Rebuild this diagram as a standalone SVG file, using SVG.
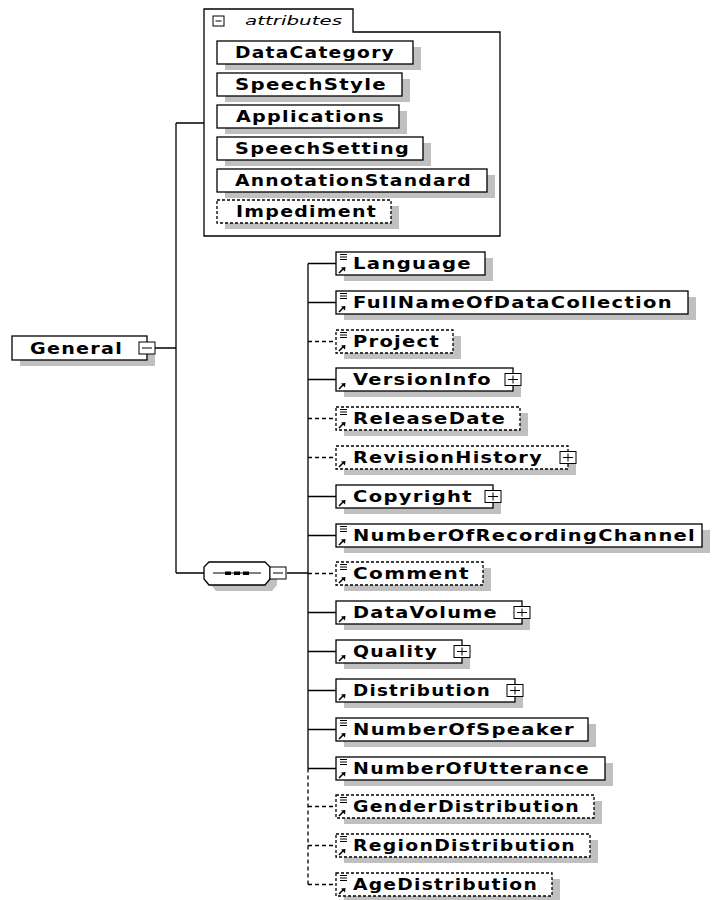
<svg xmlns="http://www.w3.org/2000/svg" xmlns:xlink="http://www.w3.org/1999/xlink" width="714" height="900" viewBox="0 0 714 900">
<style>
.bg{fill:#fff}
.box{fill:#fff;stroke:#000;stroke-width:1.3}
.opt{stroke-dasharray:3 2}
.sh{fill:#c0c0c0;stroke:none}
.t{font-family:"DejaVu Sans","Liberation Sans",Arial,sans-serif;font-weight:bold;font-size:15px;letter-spacing:1px;fill:#000}
.ti{font-family:"DejaVu Sans","Liberation Sans",Arial,sans-serif;font-style:italic;font-size:12px;fill:#000}
.ln{stroke:#000;stroke-width:1.3;fill:none}
.dl{stroke-dasharray:4 3}
.ic{stroke:#000;stroke-width:1;fill:none}
</style>
<defs>
<g id="eq"><path class="ic" d="M4 2.5H11M4 5H11M4 7.5H11"/></g>
<g id="ar"><path d="M3 21L7 17" stroke="#000" stroke-width="1.6"/><polygon points="5,15.5 9.5,15 9,19.5" fill="#000"/></g>
<g id="plus"><rect x="-8" y="-6" width="16" height="12" fill="#fff" stroke="#000" stroke-width="1"/><path d="M-5 0H5M0 -4V4" stroke="#000" stroke-width="1"/></g>
<g id="minus"><rect x="-8" y="-6" width="16" height="12" fill="#fff" stroke="#000" stroke-width="1"/><path d="M-5 0H5" stroke="#000" stroke-width="1"/></g>
</defs>
<rect class="bg" x="0" y="0" width="714" height="900"/>

<g id="connectors">
<path class="ln" d="M155 348H176M176 123V573M176 123H204M176 573H204"/>
<path class="ln" d="M287 573H308M308 263.5V768.5"/>
<path class="ln dl" d="M308 768.5V884.5"/>
<path class="ln" d="M308 263.5H336M308 302.5H336M308 379.5H336M308 496.5H336M308 535.5H336M308 612.5H336M308 651.5H336M308 690.5H336M308 729.5H336M308 768.5H336"/>
<path class="ln dl" d="M308 341.5H336M308 418.5H336M308 457.5H336M308 573.5H336M308 806.5H336M308 845.5H336M308 884.5H336"/>
</g>

<g id="attributes">
<path class="ln" d="M204 236V9H353V32H500V236Z"/>
<rect x="213" y="16" width="11" height="10" fill="#fff" stroke="#000" stroke-width="1"/>
<path d="M215.5 21H221.5" stroke="#000" stroke-width="1"/>
<text class="ti" x="245" y="25" textLength="97" lengthAdjust="spacingAndGlyphs">attributes</text>
</g>

<g id="attr-DataCategory">
<rect class="sh" x="225" y="47" width="196" height="23"/>
<rect class="box" x="217" y="41" width="196" height="23"/>
<text class="t" x="235" y="58" textLength="160" lengthAdjust="spacingAndGlyphs">DataCategory</text>
</g>
<g id="attr-SpeechStyle">
<rect class="sh" x="225" y="79" width="185" height="23"/>
<rect class="box" x="217" y="73" width="185" height="23"/>
<text class="t" x="235" y="90" textLength="152" lengthAdjust="spacingAndGlyphs">SpeechStyle</text>
</g>
<g id="attr-Applications">
<rect class="sh" x="225" y="111" width="182" height="23"/>
<rect class="box" x="217" y="105" width="182" height="23"/>
<text class="t" x="236" y="122" textLength="149" lengthAdjust="spacingAndGlyphs">Applications</text>
</g>
<g id="attr-SpeechSetting">
<rect class="sh" x="225" y="143" width="206" height="23"/>
<rect class="box" x="217" y="137" width="206" height="23"/>
<text class="t" x="235" y="154" textLength="175" lengthAdjust="spacingAndGlyphs">SpeechSetting</text>
</g>
<g id="attr-AnnotationStandard">
<rect class="sh" x="225" y="175" width="270" height="23"/>
<rect class="box" x="217" y="169" width="270" height="23"/>
<text class="t" x="235" y="186" textLength="237" lengthAdjust="spacingAndGlyphs">AnnotationStandard</text>
</g>
<g id="attr-Impediment">
<rect class="sh" x="225" y="206" width="174" height="23"/>
<rect class="box opt" x="217" y="200" width="174" height="23"/>
<text class="t" x="236" y="217" textLength="141" lengthAdjust="spacingAndGlyphs">Impediment</text>
</g>

<g id="General">
<rect class="sh" x="20" y="342" width="135" height="24"/>
<rect class="box" x="12" y="336" width="135" height="24"/>
<text class="t" x="30" y="354" textLength="93" lengthAdjust="spacingAndGlyphs">General</text>
<use xlink:href="#minus" x="147" y="348"/>
</g>

<g id="sequence">
<polygon class="sh" points="216,568 272,568 277,573 277,585 272,591 216,591 211,585 211,573"/>
<polygon class="box" points="209,562 265,562 270,567 270,579 265,585 209,585 204,579 204,567"/>
<path d="M213 573H261" stroke="#000" stroke-width="1"/>
<rect x="225" y="571.5" width="6" height="3.5" fill="#000"/>
<rect x="234" y="571.5" width="6" height="3.5" fill="#000"/>
<rect x="243" y="571.5" width="6" height="3.5" fill="#000"/>
<use xlink:href="#minus" x="278" y="573"/>
</g>

<g id="Language">
<rect class="sh" x="344" y="258" width="149" height="23"/>
<rect class="box" x="336" y="252" width="149" height="23"/>
<use xlink:href="#eq" x="336" y="252"/><use xlink:href="#ar" x="336" y="252"/>
<text class="t" x="353" y="269" textLength="119" lengthAdjust="spacingAndGlyphs">Language</text>
</g>
<g id="FullNameOfDataCollection">
<rect class="sh" x="344" y="297" width="352" height="23"/>
<rect class="box" x="336" y="291" width="352" height="23"/>
<use xlink:href="#eq" x="336" y="291"/><use xlink:href="#ar" x="336" y="291"/>
<text class="t" x="353" y="308" textLength="320" lengthAdjust="spacingAndGlyphs">FullNameOfDataCollection</text>
</g>
<g id="Project">
<rect class="sh" x="344" y="336" width="117" height="23"/>
<rect class="box opt" x="336" y="330" width="117" height="23"/>
<use xlink:href="#eq" x="336" y="330"/><use xlink:href="#ar" x="336" y="330"/>
<text class="t" x="353" y="347" textLength="87" lengthAdjust="spacingAndGlyphs">Project</text>
</g>
<g id="VersionInfo">
<rect class="sh" x="344" y="374" width="177" height="23"/>
<rect class="box" x="336" y="368" width="177" height="23"/>
<use xlink:href="#ar" x="336" y="368"/>
<text class="t" x="353" y="385" textLength="139" lengthAdjust="spacingAndGlyphs">VersionInfo</text>
<use xlink:href="#plus" x="513" y="379.5"/>
</g>
<g id="ReleaseDate">
<rect class="sh" x="344" y="413" width="184" height="23"/>
<rect class="box opt" x="336" y="407" width="184" height="23"/>
<use xlink:href="#eq" x="336" y="407"/><use xlink:href="#ar" x="336" y="407"/>
<text class="t" x="353" y="424" textLength="153" lengthAdjust="spacingAndGlyphs">ReleaseDate</text>
</g>
<g id="RevisionHistory">
<rect class="sh" x="344" y="452" width="232" height="23"/>
<rect class="box opt" x="336" y="446" width="232" height="23"/>
<use xlink:href="#ar" x="336" y="446"/>
<text class="t" x="353" y="463" textLength="190" lengthAdjust="spacingAndGlyphs">RevisionHistory</text>
<use xlink:href="#plus" x="568" y="457.5"/>
</g>
<g id="Copyright">
<rect class="sh" x="344" y="491" width="157" height="23"/>
<rect class="box" x="336" y="485" width="157" height="23"/>
<use xlink:href="#ar" x="336" y="485"/>
<text class="t" x="353" y="502" textLength="120" lengthAdjust="spacingAndGlyphs">Copyright</text>
<use xlink:href="#plus" x="493" y="496.5"/>
</g>
<g id="NumberOfRecordingChannel">
<rect class="sh" x="344" y="530" width="366" height="23"/>
<rect class="box" x="336" y="524" width="366" height="23"/>
<use xlink:href="#eq" x="336" y="524"/><use xlink:href="#ar" x="336" y="524"/>
<text class="t" x="353" y="541" textLength="343" lengthAdjust="spacingAndGlyphs">NumberOfRecordingChannel</text>
</g>
<g id="Comment">
<rect class="sh" x="344" y="568" width="147" height="23"/>
<rect class="box opt" x="336" y="562" width="147" height="23"/>
<use xlink:href="#eq" x="336" y="562"/><use xlink:href="#ar" x="336" y="562"/>
<text class="t" x="353" y="579" textLength="117" lengthAdjust="spacingAndGlyphs">Comment</text>
</g>
<g id="DataVolume">
<rect class="sh" x="344" y="607" width="186" height="23"/>
<rect class="box" x="336" y="601" width="186" height="23"/>
<use xlink:href="#ar" x="336" y="601"/>
<text class="t" x="353" y="618" textLength="145" lengthAdjust="spacingAndGlyphs">DataVolume</text>
<use xlink:href="#plus" x="522" y="612.5"/>
</g>
<g id="Quality">
<rect class="sh" x="344" y="646" width="126" height="23"/>
<rect class="box" x="336" y="640" width="126" height="23"/>
<use xlink:href="#ar" x="336" y="640"/>
<text class="t" x="353" y="657" textLength="85" lengthAdjust="spacingAndGlyphs">Quality</text>
<use xlink:href="#plus" x="462" y="651.5"/>
</g>
<g id="Distribution">
<rect class="sh" x="344" y="685" width="179" height="23"/>
<rect class="box" x="336" y="679" width="179" height="23"/>
<use xlink:href="#ar" x="336" y="679"/>
<text class="t" x="353" y="696" textLength="138" lengthAdjust="spacingAndGlyphs">Distribution</text>
<use xlink:href="#plus" x="515" y="690.5"/>
</g>
<g id="NumberOfSpeaker">
<rect class="sh" x="344" y="724" width="252" height="23"/>
<rect class="box" x="336" y="718" width="252" height="23"/>
<use xlink:href="#eq" x="336" y="718"/><use xlink:href="#ar" x="336" y="718"/>
<text class="t" x="353" y="735" textLength="222" lengthAdjust="spacingAndGlyphs">NumberOfSpeaker</text>
</g>
<g id="NumberOfUtterance">
<rect class="sh" x="344" y="763" width="269" height="23"/>
<rect class="box" x="336" y="757" width="269" height="23"/>
<use xlink:href="#eq" x="336" y="757"/><use xlink:href="#ar" x="336" y="757"/>
<text class="t" x="353" y="774" textLength="237" lengthAdjust="spacingAndGlyphs">NumberOfUtterance</text>
</g>
<g id="GenderDistribution">
<rect class="sh" x="344" y="801" width="258" height="23"/>
<rect class="box opt" x="336" y="795" width="258" height="23"/>
<use xlink:href="#eq" x="336" y="795"/><use xlink:href="#ar" x="336" y="795"/>
<text class="t" x="353" y="812" textLength="227" lengthAdjust="spacingAndGlyphs">GenderDistribution</text>
</g>
<g id="RegionDistribution">
<rect class="sh" x="344" y="840" width="254" height="23"/>
<rect class="box opt" x="336" y="834" width="254" height="23"/>
<use xlink:href="#eq" x="336" y="834"/><use xlink:href="#ar" x="336" y="834"/>
<text class="t" x="353" y="851" textLength="223" lengthAdjust="spacingAndGlyphs">RegionDistribution</text>
</g>
<g id="AgeDistribution">
<rect class="sh" x="344" y="879" width="216" height="23"/>
<rect class="box opt" x="336" y="873" width="216" height="23"/>
<use xlink:href="#eq" x="336" y="873"/><use xlink:href="#ar" x="336" y="873"/>
<text class="t" x="353" y="890" textLength="185" lengthAdjust="spacingAndGlyphs">AgeDistribution</text>
</g>
</svg>
